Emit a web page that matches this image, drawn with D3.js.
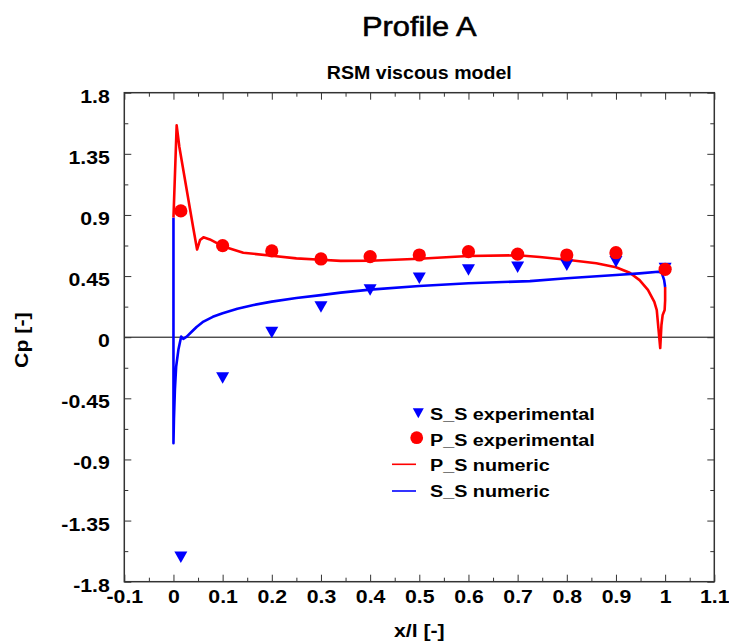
<!DOCTYPE html>
<html><head><meta charset="utf-8">
<script src="https://cdn.jsdelivr.net/npm/d3@7"></script>
<style>body{margin:0;background:#fff} svg{display:block}</style>
</head><body><svg id="c" width="729" height="644"></svg>
<script>
// ---------- data ----------
const xTickValues = [-0.1,0,0.1,0.2,0.3,0.4,0.5,0.6,0.7,0.8,0.9,1,1.1];
const xTickLabels = ["-0.1","0","0.1","0.2","0.3","0.4","0.5","0.6","0.7","0.8","0.9","1","1.1"];
const xMinorTicks = [-0.05,0.05,0.15,0.25,0.35,0.45,0.55,0.65,0.75,0.85,0.95,1.05];
const yTickValues = [-1.8,-1.35,-0.9,-0.45,0,0.45,0.9,1.35,1.8];
const yTickLabels = ["-1.8","-1.35","-0.9","-0.45","0","0.45","0.9","1.35","1.8"];
const yMinorTicks = [-1.575,-1.125,-0.675,-0.225,0.225,0.675,1.125,1.575];

const ssExpX = [0.015,0.1,0.2,0.3,0.4,0.5,0.6,0.7,0.8,0.9,1.0];
const ssExpY = [-1.62,-0.30,0.034,0.223,0.348,0.434,0.495,0.515,0.53,0.556,0.505];
const psExpX = [0.015,0.1,0.2,0.3,0.4,0.5,0.6,0.7,0.8,0.9,1.0];
const psExpY = [0.93,0.674,0.635,0.576,0.593,0.605,0.63,0.612,0.605,0.622,0.50];

const psNumX = [0,0.0065,0.012,0.04,0.048,0.054,0.061,0.074,0.1,0.142,0.2,0.25,0.3,0.34,0.4,0.5,0.6,0.7,0.745,0.8,0.86,0.9,0.928,0.948,0.965,0.978,0.983,0.986,0.99,0.9925,0.995,0.999,1.0,1.0];
const psNumY = [0.88,1.56,1.40,0.81,0.645,0.715,0.735,0.72,0.67,0.622,0.60,0.58,0.57,0.562,0.563,0.578,0.598,0.603,0.59,0.57,0.544,0.515,0.475,0.42,0.348,0.26,0.2,0.08,-0.08,0.09,0.164,0.2,0.27,0.37];

const ssNumX = [0,0,0.001,0.003,0.0055,0.01,0.0157,0.02,0.027,0.037,0.047,0.061,0.08,0.1,0.13,0.163,0.2,0.25,0.3,0.34,0.4,0.5,0.6,0.725,0.8,0.9,0.948,0.986,0.993,0.998,1.0];
const ssNumY = [0.88,-0.78,-0.6,-0.38,-0.216,-0.093,0.005,-0.012,0.004,0.04,0.075,0.115,0.15,0.176,0.21,0.237,0.262,0.288,0.31,0.328,0.35,0.377,0.397,0.413,0.434,0.458,0.47,0.482,0.475,0.42,0.37];

const legendLabels = ["S_S experimental","P_S experimental","P_S numeric","S_S numeric"];

// ---------- layout ----------
const FONT = '"Liberation Sans", Arial, Helvetica, sans-serif';
const SX = 1.15;
const L = 124.3, R = 714.3, T = 92.7, B = 581.7;
const RED = "#ff0000", BLUE = "#0000ff";

const svg = d3.select("#c");
const x = d3.scaleLinear().domain([-0.1,1.1]).range([L,R]);
const y = d3.scaleLinear().domain([-1.8,1.8]).range([B,T]);

// zero line
svg.append("line").attr("x1",L).attr("x2",R).attr("y1",y(0)).attr("y2",y(0))
  .attr("stroke","#000").attr("stroke-width",1);

// axes (ticks inward on all sides)
function axisG(axis, tr){
  const g = svg.append("g").attr("transform",tr).call(axis);
  g.select(".domain").remove();
  g.selectAll("line").attr("stroke","#333").attr("stroke-width",1);
  g.attr("font-family",FONT).attr("font-size",18.5).attr("font-weight","bold");
  return g;
}
const gxb = axisG(d3.axisBottom(x).tickValues(xTickValues).tickSizeInner(-7).tickSizeOuter(0)
  .tickFormat((d,i)=>xTickLabels[i]), `translate(0,${B})`);
gxb.selectAll("text").attr("y",null).attr("dy",null).attr("fill","#000")
  .attr("transform",`translate(0,21.5) scale(${SX},1)`);
axisG(d3.axisBottom(x).tickValues(xMinorTicks).tickSizeInner(-4).tickSizeOuter(0).tickFormat(""), `translate(0,${B})`);
axisG(d3.axisTop(x).tickValues(xTickValues).tickSizeInner(-7).tickSizeOuter(0).tickFormat(""), `translate(0,${T})`);
axisG(d3.axisTop(x).tickValues(xMinorTicks).tickSizeInner(-4).tickSizeOuter(0).tickFormat(""), `translate(0,${T})`);
const gyl = axisG(d3.axisLeft(y).tickValues(yTickValues).tickSizeInner(-7).tickSizeOuter(0)
  .tickFormat((d,i)=>yTickLabels[i]), `translate(${L},0)`);
gyl.selectAll("text").attr("x",null).attr("dy",null).attr("fill","#000")
  .attr("transform",`translate(-14.5,9.5) scale(${SX},1)`);
axisG(d3.axisLeft(y).tickValues(yMinorTicks).tickSizeInner(-4).tickSizeOuter(0).tickFormat(""), `translate(${L},0)`);
axisG(d3.axisRight(y).tickValues(yTickValues).tickSizeInner(-7).tickSizeOuter(0).tickFormat(""), `translate(${R},0)`);
axisG(d3.axisRight(y).tickValues(yMinorTicks).tickSizeInner(-4).tickSizeOuter(0).tickFormat(""), `translate(${R},0)`);

// frame
svg.append("rect").attr("x",L).attr("y",T).attr("width",R-L).attr("height",B-T)
  .attr("fill","none").attr("stroke","#333").attr("stroke-width",1.5);

// lines
const line = d3.line().x(d=>x(d[0])).y(d=>y(d[1]));
svg.append("path").datum(psNumX.map((v,i)=>[v,psNumY[i]])).attr("d",line)
  .attr("fill","none").attr("stroke",RED).attr("stroke-width",2.6).attr("stroke-linejoin","round");
svg.append("path").datum(ssNumX.map((v,i)=>[v,ssNumY[i]])).attr("d",line)
  .attr("fill","none").attr("stroke",BLUE).attr("stroke-width",2.6).attr("stroke-linejoin","round");

// markers
function tri(cx,cy,w,h){ return `M${cx-w/2},${cy-h/2}L${cx+w/2},${cy-h/2}L${cx},${cy+h/2}Z`; }
svg.append("g").selectAll("path").data(ssExpX.map((v,i)=>[v,ssExpY[i]])).join("path")
  .attr("d",d=>tri(x(d[0]),y(d[1]),13,11.5)).attr("fill",BLUE);
svg.append("g").selectAll("circle").data(psExpX.map((v,i)=>[v,psExpY[i]])).join("circle")
  .attr("cx",d=>x(d[0])).attr("cy",d=>y(d[1])).attr("r",6.6).attr("fill",RED);

// legend
const lg = svg.append("g");
lg.append("path").attr("d",tri(418.3,413.3,11,10)).attr("fill",BLUE);
lg.append("circle").attr("cx",416.7).attr("cy",437.7).attr("r",6.4).attr("fill",RED);
lg.append("line").attr("x1",392).attr("x2",416).attr("y1",464.3).attr("y2",464.3).attr("stroke",RED).attr("stroke-width",1.6);
lg.append("line").attr("x1",392).attr("x2",416).attr("y1",491).attr("y2",491).attr("stroke",BLUE).attr("stroke-width",1.6);
const lgBase = [420,445.7,471.3,497.2];
legendLabels.forEach((t,i)=>{
  lg.append("text").attr("transform",`translate(430,${lgBase[i]}) scale(${SX},1)`)
    .attr("font-family",FONT).attr("font-size",17.2).attr("font-weight","bold").text(t);
});

// titles & axis labels
const cx = (L+R)/2;
svg.append("text").attr("transform",`translate(${cx},36) scale(1.1,1)`).attr("text-anchor","middle")
  .attr("font-family",FONT).attr("font-size",28).attr("stroke","#000").attr("stroke-width",0.6)
  .text("Profile A");
svg.append("text").attr("transform",`translate(${cx},78.5) scale(1.12,1)`).attr("text-anchor","middle")
  .attr("font-family",FONT).attr("font-size",17.5).attr("font-weight","bold").text("RSM viscous model");
svg.append("text").attr("transform",`translate(${cx},637) scale(${SX},1)`).attr("text-anchor","middle")
  .attr("font-family",FONT).attr("font-size",18.5).attr("font-weight","bold").text("x/l [-]");
svg.append("text").attr("transform",`translate(28,${y(0)+3}) rotate(-90) scale(${SX},1)`).attr("text-anchor","middle")
  .attr("font-family",FONT).attr("font-size",18.5).attr("font-weight","bold").text("Cp [-]");
</script></body></html>
